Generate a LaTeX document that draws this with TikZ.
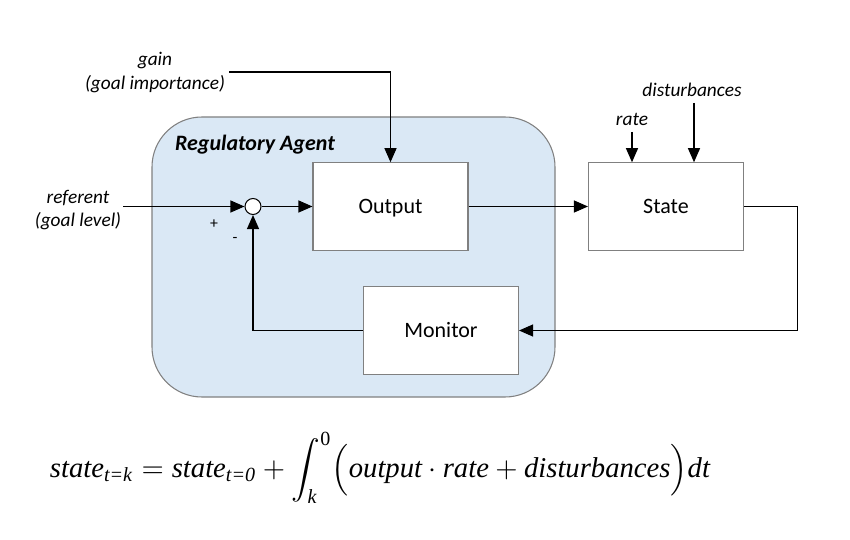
\documentclass[tikz,border=0pt]{standalone}
\usepackage{fontspec}
\setmainfont{Carlito}
\newfontfamily\eqfont{Liberation Serif}
\usetikzlibrary{arrows.meta}
\definecolor{agentblue}{HTML}{DAE8F5}
\definecolor{boxgray}{HTML}{808080}
\newcommand\ev[1]{\mbox{\eqfont\itshape #1}}
\newcommand\es[1]{\mbox{\eqfont\itshape\scriptsize #1}}
\tikzstyle{blk}=[rectangle,draw=boxgray,fill=white,line width=.6pt,minimum width=3.1cm,minimum height=1.75cm,text height=2ex,text depth=.3ex,font=\fontsize{12.5}{14}\selectfont]
\tikzstyle{sum}=[circle,draw=black,fill=white,line width=.6pt,minimum size=.32cm,inner sep=0pt]
\tikzstyle{lbl}=[align=center,font=\itshape\fontsize{11}{13.5}\selectfont]
\tikzstyle{sig}=[line width=.6pt,-{Triangle[length=.28cm,width=.24cm]}]

\begin{document}
\begin{tikzpicture}
\useasboundingbox (0,0) rectangle (17,-10.8);
% regulatory agent
\draw[draw=boxgray,fill=agentblue,line width=.6pt,rounded corners=1cm] (3.04,-2.34) rectangle (11.1,-7.94);
\node[font=\bfseries\itshape\fontsize{12.5}{14}\selectfont] (agent) at (5.1,-2.9) {Regulatory Agent};
\node[blk] (out)  at (7.81,-4.13) {Output};
\node[blk] (st)   at (13.32,-4.13) {State};
\node[blk] (mon)  at (8.82,-6.61) {Monitor};
\node[sum] (s)    at (5.06,-4.13) {};
% inputs
\node[lbl] (ref)  at (1.56,-4.2) {referent\\(goal level)};
\node[lbl] (gain) at (3.1,-1.45) {gain\\(goal importance)};
\node[lbl] (rate) at (12.64,-2.38) {rate};
\node[lbl] (dist) at (13.84,-1.8) {disturbances};
\node[font=\fontsize{9}{10}\selectfont] (plus)  at (4.28,-4.48) {+};
\node[font=\fontsize{9}{10}\selectfont] (minus) at (4.7,-4.8) {-};
\coordinate (g0) at (4.58,-1.44);
\coordinate (r0) at (2.46,-4.13);
\coordinate (ra0) at (12.64,-2.64);
\coordinate (d0) at (13.88,-2.06);
% signals
\draw[sig] (r0) -- (s);
\draw[sig] (s) -- (out);
\draw[sig] (g0) -| (out.north);
\draw[sig] (out) -- (st);
\draw[sig] (ra0) -- (ra0 |- st.north);
\draw[sig] (d0) -- (d0 |- st.north);
\draw[sig] (st.east) -- ++(1.06,0) |- (mon.east);
\draw[sig] (mon.west) -| (s.south);
% equation
\node (eq) at (7.6,-9.35) {\resizebox{13.2cm}{!}{$\displaystyle \ev{state}_{\es{t=k}}=\ev{state}_{\es{t=0}}+\int_{\es{k}}^{\mbox{\eqfont\scriptsize 0}}\Bigl(\ev{output}\cdot\ev{rate}+\ev{disturbances}\Bigr)\ev{dt}$}};
\end{tikzpicture}
\end{document}
